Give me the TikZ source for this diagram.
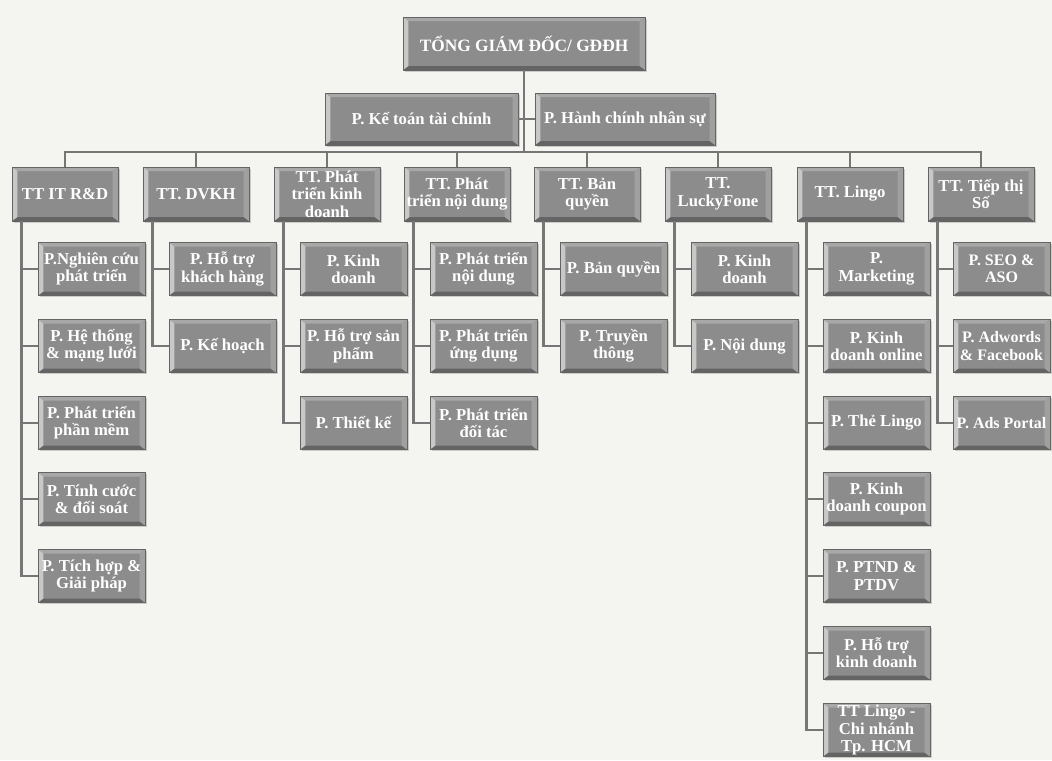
\documentclass[tikz,border=0pt]{standalone}
\usepackage{fontspec}
\setmainfont{Liberation Serif}
\usetikzlibrary{shadows}

\definecolor{papel}{RGB}{244,244,240}
\definecolor{caixacinza}{RGB}{140,140,140}
\definecolor{bevclaro}{RGB}{200,200,200}
\definecolor{bevmedio}{RGB}{168,168,168}
\definecolor{bevescuro}{RGB}{100,100,100}
\definecolor{linhacinza}{RGB}{118,118,118}

\begin{document}
\begin{tikzpicture}[x=0.75pt, y=-0.75pt]
            % Estilos
            \tikzstyle{caixa}=[rectangle, draw=bevescuro, line width=0.5pt, fill=caixacinza, text=white,
                font=\fontsize{12.5}{13}\selectfont\bfseries, align=center, inner sep=0pt,
                drop shadow={shadow xshift=1.2pt, shadow yshift=-1.2pt, opacity=0.35},
                path picture={
                    \fill[bevmedio] (path picture bounding box.north west) -- (path picture bounding box.north east)
                        -- ([shift={(-4pt,-3pt)}]path picture bounding box.north east) -- ([shift={(4pt,-3pt)}]path picture bounding box.north west) -- cycle;
                    \fill[bevescuro] (path picture bounding box.south west) -- (path picture bounding box.south east)
                        -- ([shift={(-4pt,3pt)}]path picture bounding box.south east) -- ([shift={(4pt,3pt)}]path picture bounding box.south west) -- cycle;
                    \fill[bevclaro] (path picture bounding box.north west) -- ([shift={(4pt,-3pt)}]path picture bounding box.north west)
                        -- ([shift={(4pt,3pt)}]path picture bounding box.south west) -- (path picture bounding box.south west) -- cycle;
                    \fill[bevclaro!80!black] (path picture bounding box.north east) -- ([shift={(-4pt,-3pt)}]path picture bounding box.north east)
                        -- ([shift={(-4pt,3pt)}]path picture bounding box.south east) -- (path picture bounding box.south east) -- cycle;
                }]
            \tikzstyle{centro}=[caixa, minimum width=79.5pt, minimum height=40.5pt]
            \tikzstyle{setor}=[caixa, minimum width=80.25pt, minimum height=39.75pt]
            \tikzstyle{borda}=[setor, minimum width=72.75pt, font=\fontsize{12}{13}\selectfont\bfseries]
            \tikzstyle{linha}=[draw=linhacinza, line width=2.2pt]

            % Fundo
            \fill[papel] (0,0) rectangle (1052,760);
            \clip (0,0) rectangle (1052,760);

            % Topo
            \node[caixa, minimum width=181.5pt, minimum height=39.75pt, font=\fontsize{13}{14}\selectfont\bfseries] (tgd) at (524,43.5) {TỔNG GIÁM ĐỐC/ GĐĐH};
            \node[caixa, minimum width=144.75pt, minimum height=39pt] (kt) at (421.5,119) {P. Kế toán tài chính};
            \node[caixa, minimum width=135pt, minimum height=39pt] (hc) at (625,119) {P. Hành chính nhân sự};

            % Trung tâm
            \node[centro] (c1) at (65,194) {TT IT R\&D};
            \node[centro] (c2) at (196,194) {TT. DVKH};
            \node[centro] (c3) at (327,194) {TT. Phát\\triển kinh\\doanh};
            \node[centro] (c4) at (457,194) {TT. Phát\\triển nội dung};
            \node[centro] (c5) at (587,194) {TT. Bản\\quyền};
            \node[centro] (c6) at (718,194) {TT.\\LuckyFone};
            \node[centro] (c7) at (850,194) {TT. Lingo};
            \node[centro] (c8) at (981,194) {TT. Tiếp thị\\Số};

            % Phòng
            \node[setor] (c1a) at (91.5,269) {P.Nghiên cứu\\phát triển};
            \node[setor] (c1b) at (91.5,346) {P. Hệ thống\\\& mạng lưới};
            \node[setor] (c1c) at (91.5,423) {P. Phát triển\\phần mềm};
            \node[setor] (c1d) at (91.5,499) {P. Tính cước\\\& đối soát};
            \node[setor] (c1e) at (91.5,576) {P. Tích hợp \&\\Giải pháp};

            \node[setor] (c2a) at (222.5,269) {P. Hỗ trợ\\khách hàng};
            \node[setor] (c2b) at (222.5,346) {P. Kế hoạch};

            \node[setor] (c3a) at (353.5,269) {P. Kinh\\doanh};
            \node[setor] (c3b) at (353.5,346) {P. Hỗ trợ sản\\phẩm};
            \node[setor] (c3c) at (353.5,423) {P. Thiết kế};

            \node[setor] (c4a) at (483.5,269) {P. Phát triển\\nội dung};
            \node[setor] (c4b) at (483.5,346) {P. Phát triển\\ứng dụng};
            \node[setor] (c4c) at (483.5,423) {P. Phát triển\\đối tác};

            \node[setor] (c5a) at (613.5,269) {P. Bản quyền};
            \node[setor] (c5b) at (613.5,346) {P. Truyền\\thông};

            \node[setor] (c6a) at (744.5,269) {P. Kinh\\doanh};
            \node[setor] (c6b) at (744.5,346) {P. Nội dung};

            \node[setor] (c7a) at (876.5,269) {P.\\Marketing};
            \node[setor] (c7b) at (876.5,346) {P. Kinh\\doanh online};
            \node[setor] (c7c) at (876.5,423) {P. Thẻ Lingo};
            \node[setor] (c7d) at (876.5,499) {P. Kinh\\doanh coupon};
            \node[setor] (c7e) at (876.5,576) {P. PTND \&\\PTDV};
            \node[setor] (c7f) at (876.5,653) {P. Hỗ trợ\\kinh doanh};
            \node[setor] (c7g) at (876.5,730) {TT Lingo -\\Chi nhánh\\Tp. HCM};

            \node[borda] (c8a) at (1001.5,269) {P. SEO \&\\ASO};
            \node[borda] (c8b) at (1001.5,346) {P. Adwords\\\& Facebook};
            \node[borda] (c8c) at (1001.5,423) {P. Ads Portal};

            % Ligações
            \coordinate (barra) at (524,152);
            \draw[linha] (tgd) -- (barra);
            \draw[linha] (kt) -- (hc);
            \draw[linha] (barra) -| (c1);
            \draw[linha] (barra) -| (c2);
            \draw[linha] (barra) -| (c3);
            \draw[linha] (barra) -| (c4);
            \draw[linha] (barra) -| (c5);
            \draw[linha] (barra) -| (c6);
            \draw[linha] (barra) -| (c7);
            \draw[linha] (barra) -| (c8);

            \draw[linha] ([xshift=7.5pt]c1.south west) |- (c1a);
            \draw[linha] ([xshift=7.5pt]c1.south west) |- (c1b);
            \draw[linha] ([xshift=7.5pt]c1.south west) |- (c1c);
            \draw[linha] ([xshift=7.5pt]c1.south west) |- (c1d);
            \draw[linha] ([xshift=7.5pt]c1.south west) |- (c1e);
            \draw[linha] ([xshift=7.5pt]c2.south west) |- (c2a);
            \draw[linha] ([xshift=7.5pt]c2.south west) |- (c2b);
            \draw[linha] ([xshift=7.5pt]c3.south west) |- (c3a);
            \draw[linha] ([xshift=7.5pt]c3.south west) |- (c3b);
            \draw[linha] ([xshift=7.5pt]c3.south west) |- (c3c);
            \draw[linha] ([xshift=7.5pt]c4.south west) |- (c4a);
            \draw[linha] ([xshift=7.5pt]c4.south west) |- (c4b);
            \draw[linha] ([xshift=7.5pt]c4.south west) |- (c4c);
            \draw[linha] ([xshift=7.5pt]c5.south west) |- (c5a);
            \draw[linha] ([xshift=7.5pt]c5.south west) |- (c5b);
            \draw[linha] ([xshift=7.5pt]c6.south west) |- (c6a);
            \draw[linha] ([xshift=7.5pt]c6.south west) |- (c6b);
            \draw[linha] ([xshift=7.5pt]c7.south west) |- (c7a);
            \draw[linha] ([xshift=7.5pt]c7.south west) |- (c7b);
            \draw[linha] ([xshift=7.5pt]c7.south west) |- (c7c);
            \draw[linha] ([xshift=7.5pt]c7.south west) |- (c7d);
            \draw[linha] ([xshift=7.5pt]c7.south west) |- (c7e);
            \draw[linha] ([xshift=7.5pt]c7.south west) |- (c7f);
            \draw[linha] ([xshift=7.5pt]c7.south west) |- (c7g);
            \draw[linha] ([xshift=7.5pt]c8.south west) |- (c8a);
            \draw[linha] ([xshift=7.5pt]c8.south west) |- (c8b);
            \draw[linha] ([xshift=7.5pt]c8.south west) |- (c8c);
\end{tikzpicture}
\end{document}
